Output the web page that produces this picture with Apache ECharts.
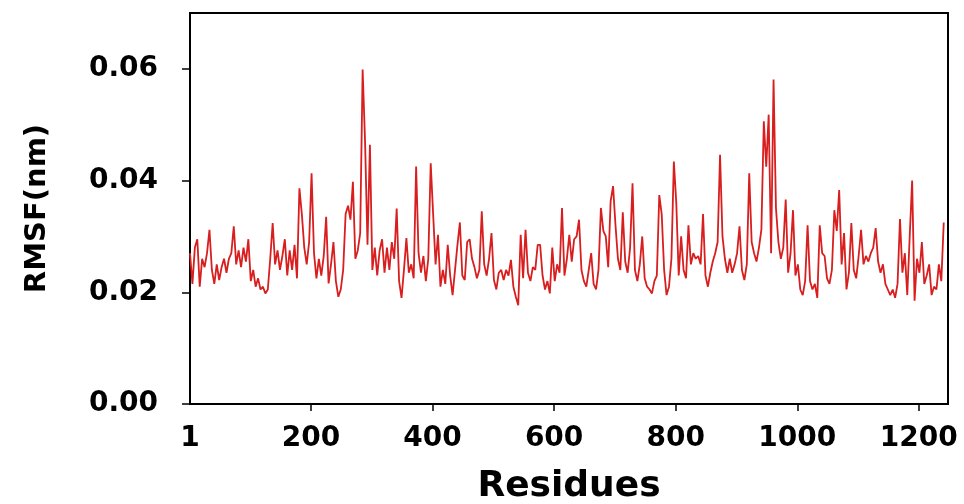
<!DOCTYPE html>
<html>
<head>
<meta charset="utf-8">
<script src="https://cdn.jsdelivr.net/npm/echarts@6/dist/echarts.min.js"></script>
<style>html,body{margin:0;padding:0;background:#fff}#chart{width:964px;height:504px}</style>
</head>
<body>
<div id="chart"></div>
<script>
// RMSF (nm), one value every 4 residues starting at residue 1
const residueStart = 1;
const residueStep = 4;
const rmsf = [
  0.027, 0.0215, 0.028, 0.0295, 0.021, 0.026, 0.0245, 0.027, 0.0312, 0.024,
  0.0215, 0.025, 0.0222, 0.0245, 0.026, 0.0235, 0.026, 0.027, 0.0318, 0.025,
  0.0275, 0.0245, 0.028, 0.0255, 0.0295, 0.022, 0.024, 0.021, 0.0225, 0.0205,
  0.021, 0.0198, 0.0205, 0.026, 0.0324, 0.025, 0.0275, 0.024, 0.0265, 0.0295,
  0.023, 0.0275, 0.024, 0.0285, 0.0225, 0.0386, 0.034, 0.028, 0.025, 0.029,
  0.0413, 0.027, 0.0225, 0.026, 0.023, 0.0265, 0.0335, 0.0216, 0.025, 0.029,
  0.022, 0.0192, 0.0205, 0.024, 0.034, 0.0355, 0.033, 0.0398, 0.026, 0.0275,
  0.0306, 0.0599, 0.047, 0.0285, 0.0464, 0.024, 0.028, 0.023, 0.0275, 0.0295,
  0.0235, 0.028, 0.024, 0.029, 0.026, 0.035, 0.022, 0.019, 0.024, 0.0297,
  0.0235, 0.025, 0.0225, 0.0425, 0.027, 0.0235, 0.0265, 0.022, 0.026, 0.0431,
  0.034, 0.025, 0.0303, 0.021, 0.024, 0.0215, 0.0285, 0.023, 0.0195, 0.024,
  0.0285, 0.0325, 0.023, 0.0222, 0.029, 0.0295, 0.026, 0.0245, 0.0225, 0.024,
  0.0345, 0.025, 0.023, 0.026, 0.0306, 0.0222, 0.0205, 0.0235, 0.024, 0.0222,
  0.024, 0.023, 0.0258, 0.021, 0.0192, 0.0177, 0.0303, 0.0225, 0.0312, 0.0235,
  0.022, 0.0245, 0.024, 0.0285, 0.0285, 0.023, 0.0205, 0.022, 0.0198, 0.028,
  0.022, 0.025, 0.0235, 0.0351, 0.023, 0.026, 0.0303, 0.0255, 0.0295, 0.030,
  0.033, 0.024, 0.022, 0.021, 0.024, 0.027, 0.0215, 0.0205, 0.024, 0.0351,
  0.031, 0.030, 0.0245, 0.0363, 0.039, 0.032, 0.026, 0.024, 0.0343, 0.0255,
  0.0235, 0.028, 0.0395, 0.024, 0.022, 0.025, 0.030, 0.0225, 0.021, 0.0205,
  0.0198, 0.022, 0.023, 0.0374, 0.034, 0.024, 0.0195, 0.021, 0.026, 0.0434,
  0.036, 0.023, 0.030, 0.024, 0.0225, 0.032, 0.025, 0.027, 0.026, 0.0265,
  0.025, 0.034, 0.023, 0.021, 0.0235, 0.0255, 0.027, 0.029, 0.0446, 0.030,
  0.026, 0.0235, 0.026, 0.0235, 0.025, 0.027, 0.0318, 0.024, 0.0222, 0.025,
  0.0413, 0.029, 0.027, 0.0255, 0.028, 0.0312, 0.0506, 0.0425, 0.0518, 0.027,
  0.0581, 0.035, 0.029, 0.026, 0.028, 0.0366, 0.0235, 0.027, 0.0347, 0.023,
  0.025, 0.0205, 0.0195, 0.022, 0.032, 0.022, 0.0205, 0.0215, 0.019, 0.032,
  0.027, 0.0265, 0.0225, 0.0215, 0.024, 0.0347, 0.031, 0.0383, 0.025, 0.0306,
  0.0205, 0.0235, 0.0324, 0.024, 0.0225, 0.0265, 0.0312, 0.025, 0.0265, 0.0255,
  0.027, 0.028, 0.0315, 0.0255, 0.0235, 0.025, 0.0215, 0.0205, 0.0195, 0.0205,
  0.019, 0.0215, 0.0331, 0.0235, 0.027, 0.0195, 0.030, 0.040, 0.0185, 0.026,
  0.0235, 0.029, 0.0215, 0.023, 0.025, 0.0195, 0.021, 0.0205, 0.025, 0.022, 0.0325
];
const residues = rmsf.map((_, i) => residueStart + i * residueStep);
const xTickLabels = [1, 200, 400, 600, 800, 1000, 1200];
const xTicks = [200, 400, 600, 800, 1000, 1200];
const yTickLabels = [0, 0.02, 0.04, 0.06];

const FONT = 'DejaVu Sans';
const chart = echarts.init(document.getElementById('chart'), null, { renderer: 'canvas' });
chart.setOption({
  animation: false,
  backgroundColor: '#fff',
  grid: { left: 190, right: 16, top: 13, bottom: 100, show: true, borderColor: '#000', borderWidth: 2,
    containLabel: false, outerBoundsMode: 'none' },
  xAxis: {
    type: 'value', min: 1, max: 1248,
    name: 'Residues', nameLocation: 'middle', nameGap: 65,
    nameTextStyle: { fontFamily: FONT, fontWeight: 'bold', fontSize: 36, color: '#000' },
    axisLine: { show: true, lineStyle: { color: '#000', width: 2 } },
    axisTick: { show: true, customValues: xTicks, length: 7, lineStyle: { color: '#000', width: 1.5 } },
    axisLabel: { customValues: xTickLabels, margin: 21, fontFamily: FONT, fontWeight: 'bold', fontSize: 28, color: '#000',
      formatter: v => String(v) },
    splitLine: { show: false }
  },
  yAxis: {
    type: 'value', min: 0, max: 0.07,
    name: 'RMSF(nm)', nameLocation: 'middle', nameGap: 138, nameRotate: 90,
    nameTextStyle: { fontFamily: FONT, fontWeight: 'bold', fontSize: 29, color: '#000' },
    axisLine: { show: true, lineStyle: { color: '#000', width: 2 } },
    axisTick: { show: true, customValues: yTickLabels, length: 8, lineStyle: { color: '#000', width: 1.5 } },
    axisLabel: { customValues: yTickLabels, margin: 32, fontFamily: FONT, fontWeight: 'bold', fontSize: 28, color: '#000',
      formatter: v => v.toFixed(2) },
    splitLine: { show: false }
  },
  series: [{
    type: 'line',
    data: residues.map((r, i) => [r, rmsf[i]]),
    symbol: 'none',
    lineStyle: { color: '#d81e1e', width: 1.8 },
    sampling: 'none'
  }]
});
</script>
</body>
</html>
